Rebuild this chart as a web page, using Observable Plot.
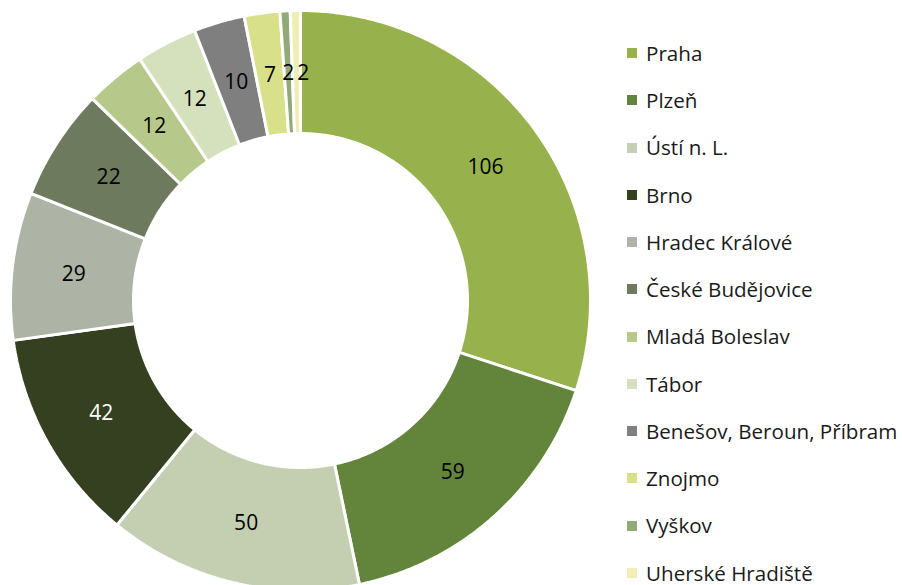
<!DOCTYPE html>
<html>
<head>
<meta charset="utf-8">
<script src="https://cdn.jsdelivr.net/npm/d3@7"></script>
<script src="https://cdn.jsdelivr.net/npm/@observablehq/plot@0.6"></script>
<style>
  html, body { margin: 0; padding: 0; background: #fff; }
  #wrap { position: relative; width: 902px; height: 585px; overflow: hidden; font-family: "Segoe UI", "Open Sans", "Noto Sans", sans-serif; }
  #legend { position: absolute; left: 627px; top: 29.4px; }
  .item { display: flex; align-items: center; height: 47.27px; line-height: 1; font-size: 20.6px; color: #1a1a1a; white-space: nowrap; }
  .sw { width: 10px; height: 10px; margin-right: 9px; flex: none; }
</style>
</head>
<body>
<div id="wrap"></div>
<script>
const categories = ["Praha", "Plzeň", "Ústí n. L.", "Brno", "Hradec Králové", "České Budějovice", "Mladá Boleslav", "Tábor", "Benešov, Beroun, Příbram", "Znojmo", "Vyškov", "Uherské Hradiště"];
const values = [106, 59, 50, 42, 29, 22, 12, 12, 10, 7, 2, 2];
const colors = ["#97b24c", "#62843b", "#c3cfb0", "#344020", "#adb3a5", "#6e7a5e", "#b7c98a", "#d5e0bd", "#7f7f7f", "#d9e08a", "#92a97a", "#eeeeb5"];
const labelColors = ["#000", "#000", "#000", "#fff", "#000", "#000", "#000", "#000", "#000", "#000", "#000", "#000"];

const W = 902, H = 585;
const cx = 300, cy = 300, R = 290, r = 167;

const data = categories.map((name, i) => ({name, value: values[i], color: colors[i], labelColor: labelColors[i]}));
const arcs = d3.pie().sort(null).value(d => d.value)(data);

// polygon outlines for each slice (geometry of the arc, in pixel-sized units around centre)
const poly = [];
const STEP = Math.PI / 360;
for (const a of arcs) {
  const n = Math.max(2, Math.ceil((a.endAngle - a.startAngle) / STEP));
  const pts = [];
  for (let k = 0; k <= n; k++) {
    const t = a.startAngle + (a.endAngle - a.startAngle) * k / n;
    pts.push({x: R * Math.sin(t), y: R * Math.cos(t)});
  }
  for (let k = n; k >= 0; k--) {
    const t = a.startAngle + (a.endAngle - a.startAngle) * k / n;
    pts.push({x: r * Math.sin(t), y: r * Math.cos(t)});
  }
  pts.push(pts[0]);
  for (const p of pts) poly.push({name: a.data.name, x: p.x, y: p.y});
}

const labels = arcs.map(a => {
  const m = (a.startAngle + a.endAngle) / 2, rm = (R + r) / 2;
  return {name: a.data.name, value: a.data.value, x: rm * Math.sin(m), y: rm * Math.cos(m), c: a.data.labelColor};
});
// avoid overlap of tiny-slice labels near the top
for (let i = 1; i < labels.length; i++) {
  const p = labels[i - 1], q = labels[i];
  if (Math.abs(q.y - p.y) < 18 && Math.abs(q.x - p.x) < 15) q.x = p.x + 15;
}

const chart = Plot.plot({
  width: W, height: H,
  margin: 0,
  x: {domain: [-cx, W - cx], range: [0, W], axis: null},
  y: {domain: [-(H - cy), cy], range: [H, 0], axis: null},
  color: {domain: categories, range: colors},
  style: {fontFamily: "'Segoe UI', 'Open Sans', 'Noto Sans', sans-serif", background: "#fff"},
  marks: [
    Plot.line(poly, {x: "x", y: "y", z: "name", fill: "name", stroke: "#fff", strokeWidth: 3, strokeLinejoin: "miter", curve: "linear"}),
    Plot.text(labels, {x: "x", y: "y", text: d => String(d.value), fill: d => d.c, fontSize: 21, textAnchor: "middle", dy: 1})
  ]
});
chart.style.position = "absolute";
chart.style.left = "0px";
chart.style.top = "0px";
const wrap = document.getElementById("wrap");
wrap.appendChild(chart);

const legend = document.createElement("div");
legend.id = "legend";
categories.forEach((c, i) => {
  const it = document.createElement("div");
  it.className = "item";
  const sw = document.createElement("span");
  sw.className = "sw";
  sw.style.background = colors[i];
  const tx = document.createElement("span");
  tx.textContent = c;
  it.appendChild(sw); it.appendChild(tx);
  legend.appendChild(it);
});
wrap.appendChild(legend);
</script>
</body>
</html>
